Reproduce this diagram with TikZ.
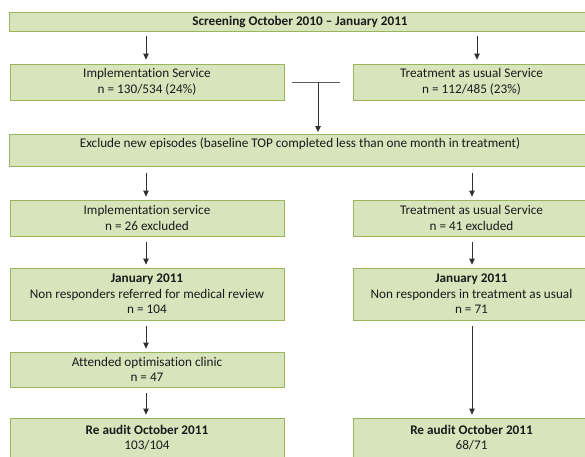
\documentclass[tikz,border=0pt]{standalone}
\usepackage{fontspec}
\setmainfont{Carlito}[Ligatures=NoCommon]
\usetikzlibrary{arrows.meta}
\definecolor{boxfill}{HTML}{D8E4BC}
\definecolor{boxdraw}{HTML}{98B45C}
\definecolor{arrcol}{HTML}{303030}
\definecolor{txtcol}{HTML}{1A1A1A}
\begin{document}
\begin{tikzpicture}[x=1pt,y=-1pt,
  box/.style={draw=boxdraw, fill=boxfill, line width=0.8pt, align=center, inner sep=0pt, text=txtcol, font=\fontsize{13.2}{15.5}\selectfont},
  lbox/.style={box, minimum width=274pt},
  rbox/.style={box, minimum width=237pt},
  wbox/.style={box, minimum width=582pt},
  arr/.style={draw=arrcol, line width=0.8pt, -{Triangle[width=5.5pt,length=6pt]}, shorten <=6pt, shorten >=3pt},
  plain/.style={draw=arrcol!80, line width=0.8pt}]
\clip (0,0) rectangle (585,456);
\fill[white] (0,0) rectangle (585,456);
\coordinate (cl) at (146,0);
\coordinate (cr) at (472,0);
\coordinate (crt) at (477,0);

\node[wbox, minimum height=19pt] (top) at (300,21.5) {\bfseries Screening October 2010 -- January 2011};
\node[lbox, minimum height=36pt] (impl1) at (147,82) {Implementation Service\\n = 130/534 (24\%)};
\node[rbox, minimum height=36pt] (tas1) at (471.5,82) {Treatment as usual Service\\n = 112/485 (23\%)};
\node[wbox, text height=13pt, text depth=19pt, anchor=north] (excl) at (300,134) {Exclude new episodes (baseline TOP completed less than one month in treatment)};
\node[lbox, minimum height=36pt] (impl2) at (147,218) {Implementation service\\n = 26 excluded};
\node[rbox, minimum height=36pt] (tas2) at (471.5,218) {Treatment as usual Service\\n = 41 excluded};
\node[lbox, minimum height=52pt] (impl3) at (147,294) {\bfseries January 2011\\Non responders referred for medical review\\n = 104};
\node[rbox, minimum height=52pt] (tas3) at (471.5,294) {\bfseries January 2011\\Non responders in treatment as usual\\n = 71};
\node[lbox, minimum height=35pt] (att) at (147,369.5) {Attended optimisation clinic\\n = 47};
\node[lbox, minimum height=39pt] (re1) at (147,437.5) {\bfseries Re audit October 2011\\103/104};
\node[rbox, minimum height=39pt] (re2) at (471.5,437.5) {\bfseries Re audit October 2011\\68/71};

\draw[arr, shorten <=5pt, shorten >=4pt] (top.south -| cl) -- (impl1.north -| cl);
\draw[arr, shorten <=5pt, shorten >=4pt] (top.south -| crt) -- (tas1.north -| crt);

\coordinate (tl) at (292,82);
\coordinate (tr) at (340,82);
\coordinate (tm) at (318,82);
\draw[plain] (tl) -- (tr);
\draw[arr, shorten <=0pt, shorten >=2pt] (tm) -- (excl.north -| tm);

\draw[arr] (excl.south -| cl) -- (impl2.north -| cl);
\draw[arr] (excl.south -| cr) -- (tas2.north -| cr);
\draw[arr] (impl2.south -| cl) -- (impl3.north -| cl);
\draw[arr] (tas2.south -| cr) -- (tas3.north -| cr);
\draw[arr] (impl3.south -| cl) -- (att.north -| cl);
\draw[arr] (att.south -| cl) -- (re1.north -| cl);
\draw[arr] (tas3.south -| cr) -- (re2.north -| cr);
\end{tikzpicture}
\end{document}
